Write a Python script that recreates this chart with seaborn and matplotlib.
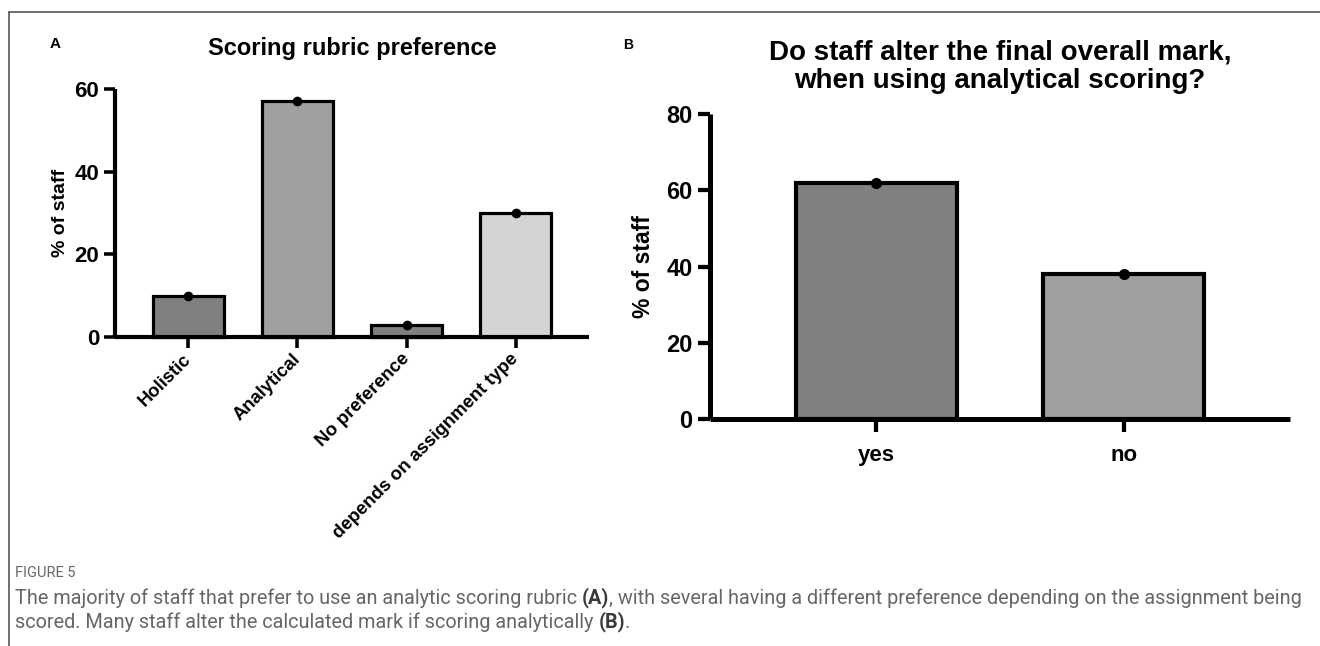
import matplotlib
matplotlib.use("Agg")
import matplotlib.pyplot as plt
from matplotlib import font_manager
from matplotlib.lines import Line2D
import seaborn as sns

# panel A data
cats_a = ["Holistic", "Analytical", "No preference", "depends on assignment type"]
vals_a = [10, 57, 3, 30]
colors_a = ["#808080", "#a0a0a0", "#808080", "#d4d4d4"]

# panel B data
cats_b = ["yes", "no"]
vals_b = [62, 38]
colors_b = ["#808080", "#a0a0a0"]

title_a = "Scoring rubric preference"
title_b = "Do staff alter the final overall mark,\nwhen using analytical scoring?"
ylabel = "% of staff"

caption_head = "FIGURE 5"
caption_lines = [
    [("The majority of staff that prefer to use an analytic scoring rubric ", "normal"), ("(A)", "bold"),
     (", with several having a different preference depending on the assignment being", "normal")],
    [("scored. Many staff alter the calculated mark if scoring analytically ", "normal"), ("(B)", "bold"),
     (".", "normal")],
]

sns.set_style("ticks")
available = {f.name for f in font_manager.fontManager.ttflist}
base = "Liberation Sans" if "Liberation Sans" in available else "DejaVu Sans"
narrow = "Liberation Sans Narrow" if "Liberation Sans Narrow" in available else base
cap_font = "Roboto" if "Roboto" in available else base
plt.rcParams["font.family"] = [base, "DejaVu Sans"]
for k in ("text.color", "axes.labelcolor", "xtick.color", "ytick.color", "axes.edgecolor"):
    plt.rcParams[k] = "black"

W, H = 1320, 646
fig = plt.figure(figsize=(W / 100, H / 100), dpi=100)


def px_axes(x0, x1, y_top, y_bot):
    return fig.add_axes([x0 / W, 1 - y_bot / H, (x1 - x0) / W, (y_bot - y_top) / H])


def style_axis(ax, lw, ticklen, fam, ysize, xsize):
    sns.despine(ax=ax)
    for s in ("left", "bottom"):
        ax.spines[s].set_linewidth(lw)
        ax.spines[s].set_capstyle("butt")
    ax.tick_params(length=ticklen, width=lw * 0.85, direction="out", color="black")
    ax.set_xlabel("")
    for t in ax.get_yticklabels():
        t.set_fontsize(ysize)
        t.set_fontweight("bold")
        t.set_family(fam)
    for t in ax.get_xticklabels():
        t.set_fontsize(xsize)
        t.set_fontweight("bold")
        t.set_family(fam)


# ---- panel A
ax_a = px_axes(115, 589, 89, 337)
sns.barplot(x=cats_a, y=vals_a, hue=cats_a, palette=colors_a, legend=False,
            width=0.65, edgecolor="black", linewidth=2.3, ax=ax_a)
sns.stripplot(x=cats_a, y=vals_a, color="black", size=7, jitter=False, zorder=5, ax=ax_a)
ax_a.set_ylim(0, 60)
ax_a.set_yticks([0, 20, 40, 60])
ax_a.set_xlim(-0.67, 3.67)
style_axis(ax_a, 3.0, 8, base, 16, 13.3)
plt.setp(ax_a.get_xticklabels(), rotation=45, ha="right", va="center", rotation_mode="anchor")
ax_a.tick_params(axis="x", pad=6)
ax_a.set_ylabel(ylabel, fontsize=14, fontweight="bold", labelpad=4)
for p in ax_a.patches:
    p.set_clip_on(False)

# ---- panel B
ax_b = px_axes(710, 1290, 114, 419)
sns.barplot(x=cats_b, y=vals_b, hue=cats_b, palette=colors_b, legend=False,
            width=0.65, edgecolor="black", linewidth=3.0, ax=ax_b)
sns.stripplot(x=cats_b, y=vals_b, color="black", size=8, jitter=False, zorder=5, ax=ax_b)
ax_b.set_ylim(0, 80)
ax_b.set_yticks([0, 20, 40, 60, 80])
ax_b.set_xlim(-0.67, 1.67)
style_axis(ax_b, 3.6, 9, narrow, 17, 16)
ax_b.tick_params(axis="x", pad=10)
ax_b.set_ylabel(ylabel, fontsize=16.5, fontweight="bold", labelpad=8)
for p in ax_b.patches:
    p.set_clip_on(False)

# titles and panel letters
fig.text(352 / W, 1 - 55 / H, title_a, ha="center", va="baseline", fontsize=17, fontweight="bold")
fig.text(1000 / W, 1 - 40 / H, title_b, ha="center", va="top", fontsize=20, fontweight="bold",
         family=narrow, linespacing=1.12)
fig.text(50 / W, 1 - 48 / H, "A", fontsize=11, fontweight="bold", va="baseline")
fig.text(623 / W, 1 - 49 / H, "B", fontsize=10, fontweight="bold", va="baseline")

# frame lines (top and left)
fig.add_artist(Line2D([9 / W, 1], [1 - 12 / H, 1 - 12 / H], color="#555555", lw=1.2))
fig.add_artist(Line2D([9 / W, 9 / W], [0, 1 - 12 / H], color="#555555", lw=1.2))

# caption, sized so the first line spans the width like the reference
cap_col = "#666666"
renderer = fig.canvas.get_renderer()
probe = fig.text(0, 0, "".join(t for t, _ in caption_lines[0]), fontsize=12, family=cap_font)
cap_size = 12 * 1286 / probe.get_window_extent(renderer).width
probe.remove()

fig.text(15 / W, 1 - 573 / H, caption_head, fontsize=10.5, color=cap_col, va="center", family=cap_font)
for i, runs in enumerate(caption_lines):
    x = 15 / W
    y = 1 - (598 + 24 * i) / H
    for txt, wt in runs:
        t = fig.text(x, y, txt, fontsize=cap_size, color=cap_col if wt == "normal" else "#3a3a3a",
                     fontweight=wt, va="center", family=cap_font)
        x += t.get_window_extent(renderer).width / W

fig.savefig("out.png", dpi=100)
